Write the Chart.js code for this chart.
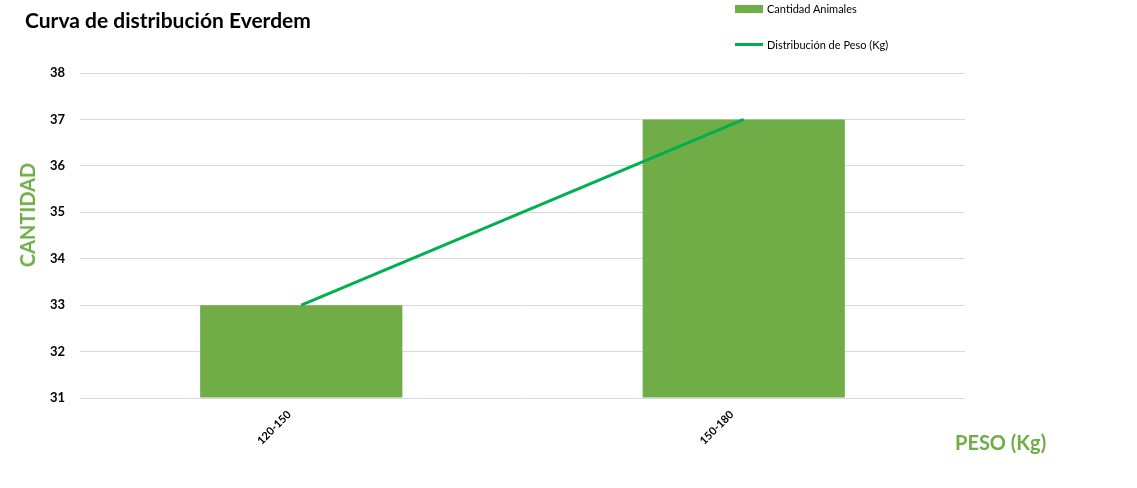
<!DOCTYPE html>
<html>
<head>
<meta charset="utf-8">
<script src="https://cdn.jsdelivr.net/npm/chart.js@4.4.1/dist/chart.umd.min.js"></script>
<style>
  body { margin: 0; background: #fff; font-family: Lato, "Open Sans", sans-serif; }
  #wrap { position: relative; width: 1137px; height: 488px; }
  #title { position: absolute; left: 25px; top: 7px; font-size: 21px; font-weight: bold; color: #000; }
  .leg { position: absolute; left: 735px; font-size: 11px; color: #000; display: flex; align-items: center; }
  .leg .sw { display: inline-block; width: 28px; margin-right: 4px; }
  #ytitle { position: absolute; left: 27px; top: 215px; transform: translate(-50%, -50%) rotate(-90deg);
            font-size: 20px; font-weight: bold; color: #70AD47; white-space: nowrap; }
  #xtitle { position: absolute; left: 955px; top: 430px; font-size: 20px; font-weight: bold; color: #70AD47; }
</style>
</head>
<body>
<div id="wrap">
  <canvas id="chart" width="1137" height="488"></canvas>
  <div id="title">Curva de distribución Everdem</div>
  <div class="leg" style="top:2px"><span class="sw" style="height:8px;background:#70AD47"></span>Cantidad Animales</div>
  <div class="leg" style="top:38px"><span class="sw" style="height:3px;background:#00B050"></span>Distribución de Peso (Kg)</div>
  <div id="ytitle">CANTIDAD</div>
  <div id="xtitle">PESO (Kg)</div>
</div>
<script>
// DATA
const categories = ["120-150", "150-180"];
const animalCounts = [33, 37];
const weightDistribution = [33, 37];
const yTicks = [31, 32, 33, 34, 35, 36, 37, 38];

const ctx = document.getElementById("chart").getContext("2d");

new Chart(ctx, {
  type: "bar",
  data: {
    labels: categories,
    datasets: [
      {
        type: "line",
        label: "Distribución de Peso (Kg)",
        data: weightDistribution,
        borderColor: "#00B050",
        borderWidth: 3,
        pointRadius: 0,
        tension: 0,
        order: 0
      },
      {
        label: "Cantidad Animales",
        data: animalCounts,
        backgroundColor: "#70AD47",
        categoryPercentage: 0.457,
        barPercentage: 1,
        base: 31,
        order: 1
      }
    ]
  },
  options: {
    responsive: false,
    animation: false,
    layout: { padding: { top: 73, right: 172, left: 0, bottom: 0 } },
    plugins: { legend: { display: false }, tooltip: { enabled: false } },
    scales: {
      x: {
        grid: { display: false },
        border: { display: false },
        ticks: {
          minRotation: 45, maxRotation: 45,
          color: "#000",
          font: { family: "Lato", size: 11, weight: "bold" },
          padding: 2,
          labelOffset: -12
        },
        afterFit: function (scale) { scale.height = 90; }
      },
      y: {
        min: yTicks[0],
        max: yTicks[yTicks.length - 1],
        afterBuildTicks: function (scale) { scale.ticks = yTicks.map(v => ({ value: v })); },
        grid: { color: "#d9d9d9", drawTicks: false },
        border: { display: false },
        ticks: {
          color: "#000",
          font: { family: "Lato", size: 13, weight: "bold" },
          padding: 15
        },
        afterFit: function (scale) { scale.width = 80; }
      }
    }
  }
});
</script>
</body>
</html>
